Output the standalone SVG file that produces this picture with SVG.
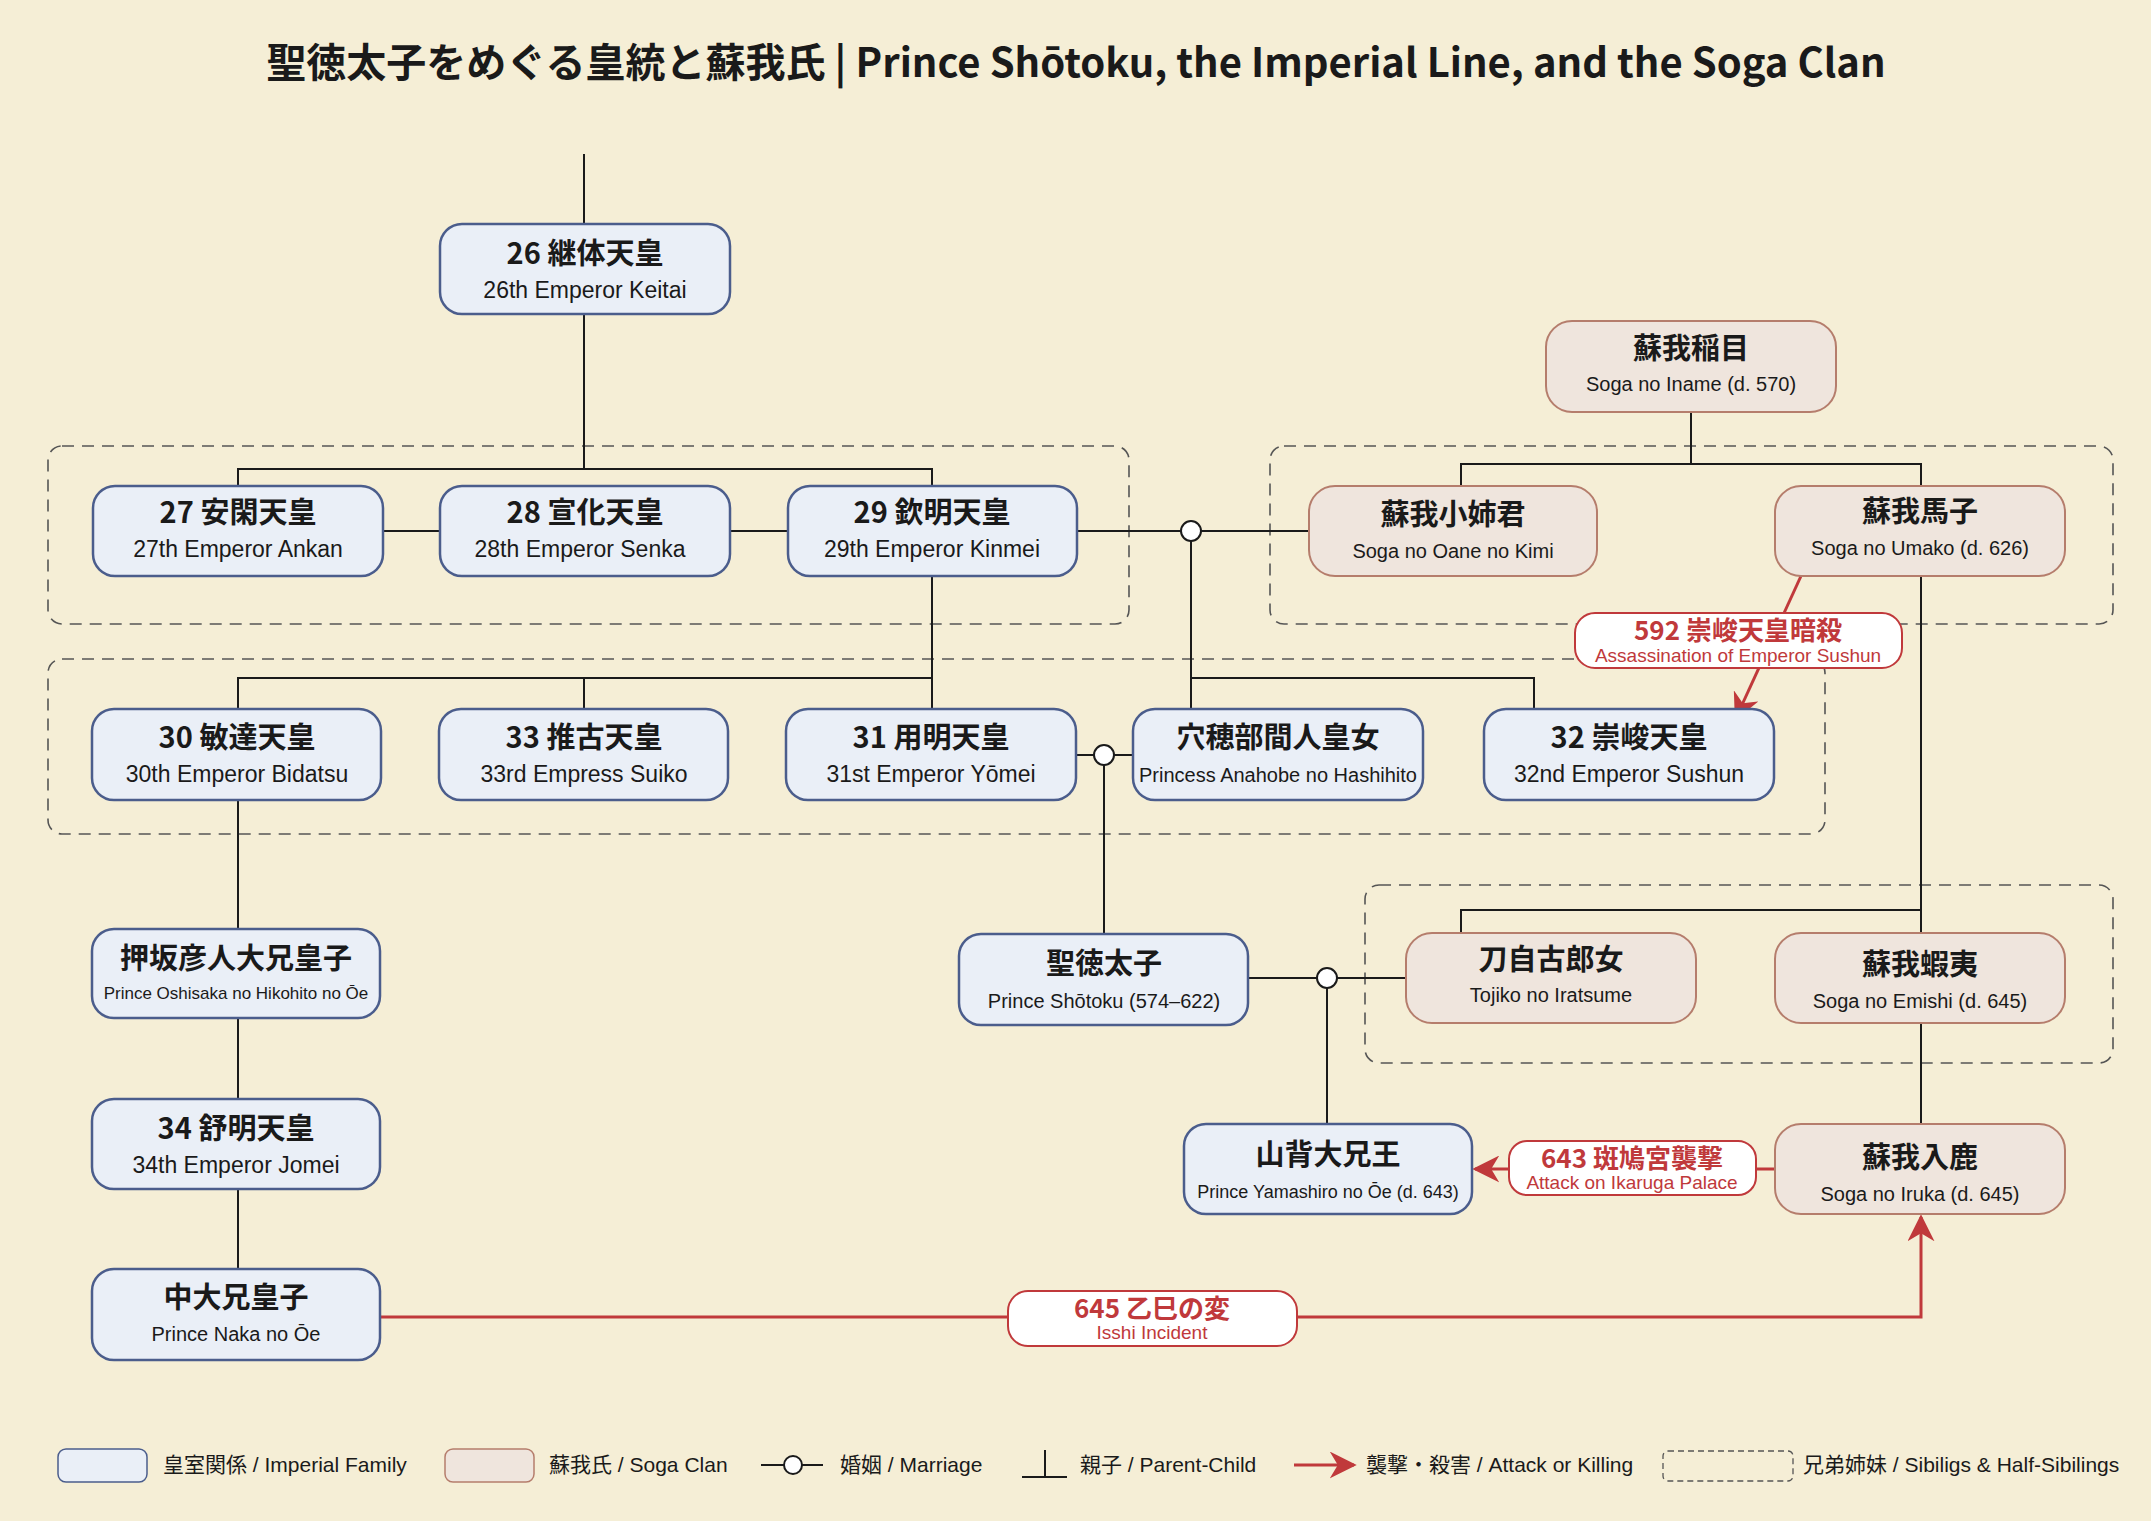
<svg xmlns="http://www.w3.org/2000/svg" width="2151" height="1521" viewBox="0 0 2151 1521">
<defs>
<style>
text{font-family:"Liberation Sans","Noto Sans CJK JP",sans-serif;text-anchor:middle;fill:#1a1a1a}
.jp{font-family:"Noto Sans CJK JP",sans-serif;font-size:29px;font-weight:700}
.en{font-size:23px}
.ens{font-size:20px}
.imp{fill:#eaeff7;stroke:#4b5d8c;stroke-width:2.5}
.soga{fill:#efe5dd;stroke:#b57d6c;stroke-width:2}
.ln{stroke:#1a1a1a;stroke-width:2;fill:none}
.dash{fill:none;stroke:#555;stroke-width:1.6;stroke-dasharray:12 8}
.mc{fill:#fff;stroke:#1a1a1a;stroke-width:2}
.red{stroke:#c0393b;stroke-width:3;fill:none}
.lab{fill:#fff;stroke:#c0393b;stroke-width:2}
.rj{font-family:"Noto Sans CJK JP",sans-serif;font-size:26px;font-weight:700;fill:#c0393b}
.re{font-size:19px;fill:#c0393b}
.lg{font-family:"Liberation Sans","Noto Sans CJK JP",sans-serif;font-size:21px;text-anchor:start}
</style>
<marker id="ah" viewBox="0 0 10 10" refX="9" refY="5" markerWidth="9" markerHeight="9" orient="auto" markerUnits="strokeWidth"><path d="M0,0 L10,5 L0,10 L3,5 z" fill="#c0393b"/></marker>
</defs>
<rect width="2151" height="1521" fill="#f5eed6"/>
<text x="1076" y="77" style="font-family:'Noto Sans CJK JP',sans-serif;font-size:40px;font-weight:700">聖徳太子をめぐる皇統と蘇我氏 | Prince Shōtoku, the Imperial Line, and the Soga Clan</text>

<g id="groups">
<rect class="dash" x="48" y="446" width="1081" height="178" rx="14"/>
<rect class="dash" x="1270" y="446" width="843" height="178" rx="14"/>
<rect class="dash" x="48" y="659" width="1777" height="175" rx="14"/>
<rect class="dash" x="1365" y="885" width="748" height="178" rx="14"/>
</g>

<g id="connectors">
<path class="ln" d="M584,154 V224 M584,314 V469 M238,486 V469 H932 V486 M383,531 H440 M730,531 H788 M1077,531 H1309 M1191,531 V709 M1191,678 H1534 V709"/>
<path class="ln" d="M932,576 V709 M238,709 V678 H932 M584,678 V709"/>
<path class="ln" d="M1076,755 H1133 M1104,755 V934"/>
<path class="ln" d="M1691,412 V464 M1461,486 V464 H1921 V486 M1921,576 V933 M1461,933 V910 H1921 M1921,1023 V1124"/>
<path class="ln" d="M238,800 V929 M238,1018 V1099 M238,1189 V1269"/>
<path class="ln" d="M1248,978 H1406 M1327,978 V1124"/>
<circle class="mc" cx="1191" cy="531" r="10"/>
<circle class="mc" cx="1104" cy="755" r="10"/>
<circle class="mc" cx="1327" cy="978" r="10"/>
<path class="red" marker-end="url(#ah)" d="M1801,576 L1736,718"/>
<path class="red" marker-end="url(#ah)" d="M1775,1169 H1475"/>
<path class="red" marker-end="url(#ah)" d="M380,1317 H1921 V1217"/>
<rect class="lab" x="1575" y="613" width="327" height="55" rx="20"/>
<text class="rj" x="1738" y="640">592 崇峻天皇暗殺</text>
<text class="re" x="1738" y="662">Assassination of Emperor Sushun</text>
<rect class="lab" x="1509" y="1141" width="247" height="54" rx="18"/>
<text class="rj" x="1632" y="1168">643 斑鳩宮襲撃</text>
<text class="re" x="1632" y="1189">Attack on Ikaruga Palace</text>
<rect class="lab" x="1008" y="1291" width="289" height="55" rx="20"/>
<text class="rj" x="1152" y="1318">645 乙巳の変</text>
<text class="re" x="1152" y="1339">Isshi Incident</text>
</g>

<g id="keitai"><rect class="imp" x="440" y="224" width="290" height="90" rx="22"/><text class="jp" x="585" y="264">26 継体天皇</text><text class="en" x="585" y="298">26th Emperor Keitai</text></g>
<g id="ankan"><rect class="imp" x="93" y="486" width="290" height="90" rx="22"/><text class="jp" x="238" y="523">27 安閑天皇</text><text class="en" x="238" y="557">27th Emperor Ankan</text></g>
<g id="senka"><rect class="imp" x="440" y="486" width="290" height="90" rx="22"/><text class="jp" x="585" y="523">28 宣化天皇</text><text class="en" x="580" y="557">28th Emperor Senka</text></g>
<g id="kinmei"><rect class="imp" x="788" y="486" width="289" height="90" rx="22"/><text class="jp" x="932" y="523">29 欽明天皇</text><text class="en" x="932" y="557">29th Emperor Kinmei</text></g>
<g id="iname"><rect class="soga" x="1546" y="321" width="290" height="91" rx="26"/><text class="jp" x="1691" y="359">蘇我稲目</text><text class="ens" x="1691" y="391">Soga no Iname (d. 570)</text></g>
<g id="oane"><rect class="soga" x="1309" y="486" width="288" height="90" rx="26"/><text class="jp" x="1453" y="525">蘇我小姉君</text><text class="ens" x="1453" y="558">Soga no Oane no Kimi</text></g>
<g id="umako"><rect class="soga" x="1775" y="486" width="290" height="90" rx="26"/><text class="jp" x="1920" y="522">蘇我馬子</text><text class="ens" x="1920" y="555">Soga no Umako (d. 626)</text></g>
<g id="bidatsu"><rect class="imp" x="92" y="709" width="289" height="91" rx="22"/><text class="jp" x="237" y="748">30 敏達天皇</text><text class="en" x="237" y="782">30th Emperor Bidatsu</text></g>
<g id="suiko"><rect class="imp" x="439" y="709" width="289" height="91" rx="22"/><text class="jp" x="584" y="748">33 推古天皇</text><text class="en" x="584" y="782">33rd Empress Suiko</text></g>
<g id="yomei"><rect class="imp" x="786" y="709" width="290" height="91" rx="22"/><text class="jp" x="931" y="748">31 用明天皇</text><text class="en" x="931" y="782">31st Emperor Yōmei</text></g>
<g id="anahobe"><rect class="imp" x="1133" y="709" width="290" height="91" rx="22"/><text class="jp" x="1278" y="748">穴穂部間人皇女</text><text class="ens" x="1278" y="782">Princess Anahobe no Hashihito</text></g>
<g id="sushun"><rect class="imp" x="1484" y="709" width="290" height="91" rx="22"/><text class="jp" x="1629" y="748">32 崇峻天皇</text><text class="en" x="1629" y="782">32nd Emperor Sushun</text></g>
<g id="oshisaka"><rect class="imp" x="92" y="929" width="288" height="89" rx="22"/><text class="jp" x="236" y="969">押坂彦人大兄皇子</text><text class="ens" style="font-size:17px" x="236" y="999">Prince Oshisaka no Hikohito no Ōe</text></g>
<g id="shotoku"><rect class="imp" x="959" y="934" width="289" height="91" rx="22"/><text class="jp" x="1104" y="974">聖徳太子</text><text class="ens" x="1104" y="1008">Prince Shōtoku (574–622)</text></g>
<g id="tojiko"><rect class="soga" x="1406" y="933" width="290" height="90" rx="26"/><text class="jp" x="1551" y="970">刀自古郎女</text><text class="ens" x="1551" y="1002">Tojiko no Iratsume</text></g>
<g id="emishi"><rect class="soga" x="1775" y="933" width="290" height="90" rx="26"/><text class="jp" x="1920" y="975">蘇我蝦夷</text><text class="ens" x="1920" y="1008">Soga no Emishi (d. 645)</text></g>
<g id="jomei"><rect class="imp" x="92" y="1099" width="288" height="90" rx="22"/><text class="jp" x="236" y="1139">34 舒明天皇</text><text class="en" x="236" y="1173">34th Emperor Jomei</text></g>
<g id="yamashiro"><rect class="imp" x="1184" y="1124" width="288" height="90" rx="22"/><text class="jp" x="1328" y="1165">山背大兄王</text><text class="ens" style="font-size:18px" x="1328" y="1198">Prince Yamashiro no Ōe (d. 643)</text></g>
<g id="iruka"><rect class="soga" x="1775" y="1124" width="290" height="90" rx="26"/><text class="jp" x="1920" y="1168">蘇我入鹿</text><text class="ens" x="1920" y="1201">Soga no Iruka (d. 645)</text></g>
<g id="naka"><rect class="imp" x="92" y="1269" width="288" height="91" rx="22"/><text class="jp" x="236" y="1308">中大兄皇子</text><text class="ens" x="236" y="1341">Prince Naka no Ōe</text></g>

<g id="legend">
<rect class="imp" x="58" y="1449" width="89" height="33" rx="8" style="stroke-width:1.5"/>
<text class="lg" x="163" y="1472">皇室関係 / Imperial Family</text>
<rect class="soga" x="445" y="1449" width="89" height="33" rx="8" style="stroke-width:1.5"/>
<text class="lg" x="549" y="1472">蘇我氏 / Soga Clan</text>
<path class="ln" d="M761,1465 H823"/><circle class="mc" cx="793" cy="1465" r="9"/>
<text class="lg" x="840" y="1472">婚姻 / Marriage</text>
<path class="ln" d="M1045,1450 V1477 M1022,1477 H1067"/>
<text class="lg" x="1080" y="1472">親子 / Parent-Child</text>
<path class="red" marker-end="url(#ah)" d="M1294,1465 H1354"/>
<text class="lg" x="1366" y="1472">襲撃・殺害 / Attack or Killing</text>
<rect class="dash" x="1663" y="1451" width="130" height="30" rx="5" style="stroke-dasharray:6 4;stroke-width:1.3"/>
<text class="lg" x="1803" y="1472">兄弟姉妹 / Sibiligs &amp; Half-Sibilings</text>
</g>
</svg>
